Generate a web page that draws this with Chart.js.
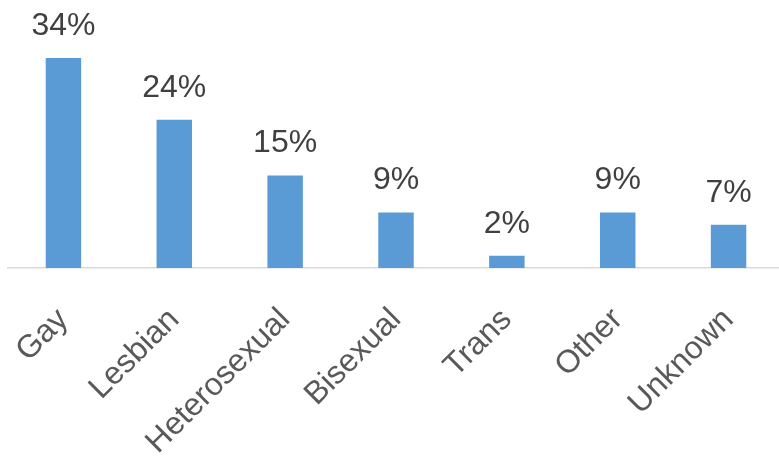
<!DOCTYPE html>
<html>
<head>
<meta charset="utf-8">
<script src="https://cdn.jsdelivr.net/npm/chart.js@4/dist/chart.umd.min.js"></script>
<style>
  html, body { margin: 0; padding: 0; background: #fff; overflow: hidden; }
  .chart-wrap { width: 784px; height: 456px; position: relative; }
</style>
</head>
<body>
<div class="chart-wrap"><canvas id="chart"></canvas></div>
<script>
const categories = ['Gay', 'Lesbian', 'Heterosexual', 'Bisexual', 'Trans', 'Other', 'Unknown'];
const shares = [34, 24, 15, 9, 2, 9, 7];

const FONT = '"Liberation Sans", Arial, sans-serif';

// draws the "34%" style labels above each bar
const valueLabels = {
  id: 'valueLabels',
  afterDatasetsDraw(chart) {
    const ctx = chart.ctx;
    const meta = chart.getDatasetMeta(0);
    ctx.save();
    ctx.font = '32px ' + FONT;
    ctx.fillStyle = '#404040';
    ctx.textAlign = 'center';
    ctx.textBaseline = 'alphabetic';
    meta.data.forEach((bar, i) => {
      ctx.fillText(shares[i] + '%', bar.x, bar.y - 23);
    });
    ctx.restore();
  }
};

new Chart(document.getElementById('chart'), {
  type: 'bar',
  data: {
    labels: categories,
    datasets: [{
      data: shares,
      backgroundColor: '#5b9bd5',
      borderWidth: 0,
      barPercentage: 1,
      categoryPercentage: 0.32
    }]
  },
  options: {
    responsive: true,
    maintainAspectRatio: false,
    animation: false,
    layout: { padding: { top: 21, left: 8, right: 0, bottom: 0 } },
    plugins: {
      legend: { display: false },
      tooltip: { enabled: false }
    },
    scales: {
      x: {
        grid: { display: false, drawTicks: false },
        border: { color: '#d9d9d9', width: 1.5 },
        ticks: {
          color: '#595959',
          font: { family: FONT, size: 32 },
          minRotation: 45,
          maxRotation: 45,
          padding: 33,
          autoSkip: false
        },
        afterFit(scale) {
          scale.height = 188;
          scale.paddingLeft = 0;
          scale.paddingRight = 0;
        }
      },
      y: {
        display: false,
        min: 0,
        max: 40
      }
    }
  },
  plugins: [valueLabels]
});
</script>
</body>
</html>
